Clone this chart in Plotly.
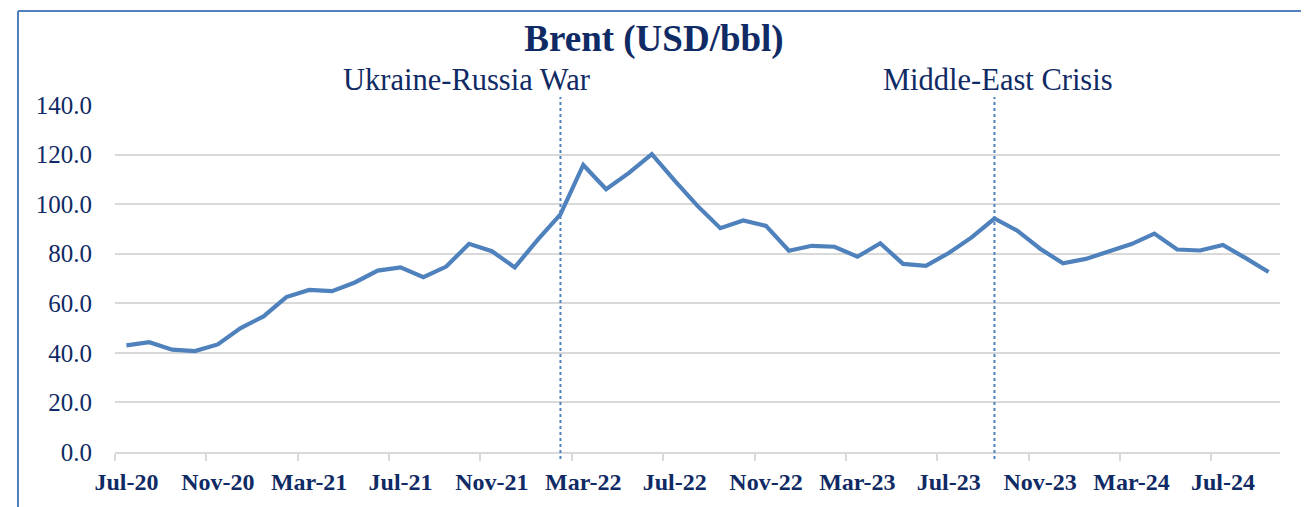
import plotly.graph_objects as go

months = ["Jul-20", "Aug-20", "Sep-20", "Oct-20", "Nov-20", "Dec-20",
          "Jan-21", "Feb-21", "Mar-21", "Apr-21", "May-21", "Jun-21",
          "Jul-21", "Aug-21", "Sep-21", "Oct-21", "Nov-21", "Dec-21",
          "Jan-22", "Feb-22", "Mar-22", "Apr-22", "May-22", "Jun-22",
          "Jul-22", "Aug-22", "Sep-22", "Oct-22", "Nov-22", "Dec-22",
          "Jan-23", "Feb-23", "Mar-23", "Apr-23", "May-23", "Jun-23",
          "Jul-23", "Aug-23", "Sep-23", "Oct-23", "Nov-23", "Dec-23",
          "Jan-24", "Feb-24", "Mar-24", "Apr-24", "May-24", "Jun-24",
          "Jul-24", "Aug-24", "Sep-24"]

brent = [43.0, 44.3, 41.3, 40.7, 43.4, 50.0,
         54.7, 62.5, 65.4, 64.9, 68.4, 73.2,
         74.5, 70.5, 74.8, 84.0, 81.0, 74.5,
         85.6, 95.9, 115.8, 106.0, 112.6, 120.2,
         109.5, 99.3, 90.3, 93.4, 91.2, 81.2,
         83.2, 82.8, 78.8, 84.2, 75.9, 75.1,
         80.3, 86.6, 94.2, 89.3, 82.0, 76.1,
         77.9, 80.9, 83.9, 88.1, 81.7, 81.3,
         83.5, 78.2, 72.6]

events = ["Feb-22", "Sep-23"]
event_labels = ["Ukraine-Russia War", "Middle-East Crisis"]

NAVY = "#0F2A64"
LINE = "#4F81BD"
GRID = "#D9D9D9"
FONT = "Liberation Serif"

fig = go.Figure()
fig.add_trace(go.Scatter(x=months, y=brent, mode="lines",
                         line=dict(color=LINE, width=4.2),
                         hoverinfo="x+y", showlegend=False))

# page has an 8px default body margin
O = 8
W, H = 1301, 499
L, R, T, B = 107, 29, 97, 55
pw, ph = W - L - R, H - T - B

def px(xp):  # page pixel x -> paper
    return (xp - O - L) / pw

def py(yp):  # page pixel y -> paper
    return (H - B - (yp - O)) / ph

shapes = []
for ev in events:
    shapes.append(dict(type="line", xref="x", yref="paper", x0=ev, x1=ev,
                       y0=py(459), y1=py(97),
                       line=dict(color=LINE, width=2, dash="dot")))
# frame
shapes.append(dict(type="line", xref="paper", yref="paper",
                   x0=px(18), x1=px(1307), y0=py(11), y1=py(11),
                   line=dict(color=LINE, width=2)))
shapes.append(dict(type="line", xref="paper", yref="paper",
                   x0=px(18), x1=px(18), y0=py(11), y1=py(510),
                   line=dict(color=LINE, width=2)))
shapes.append(dict(type="line", xref="paper", yref="paper",
                   x0=px(1308), x1=px(1308), y0=py(11), y1=py(50),
                   line=dict(color="#BCD0EA", width=1)))
shapes.append(dict(type="line", xref="paper", yref="paper",
                   x0=px(1308), x1=px(1308), y0=py(50), y1=py(510),
                   line=dict(color="#8FB0DA", width=1, dash="dot")))

annotations = [
    dict(text=event_labels[0], xref="paper", yref="paper", x=px(466), y=py(80),
         xanchor="center", yanchor="middle", showarrow=False,
         font=dict(family=FONT, size=30.5, color=NAVY)),
    dict(text=event_labels[1], xref="paper", yref="paper", x=px(998), y=py(80),
         xanchor="center", yanchor="middle", showarrow=False,
         font=dict(family=FONT, size=30.5, color=NAVY)),
]

fig.update_layout(
    width=W, height=H, autosize=False,
    margin=dict(l=L, r=R, t=T, b=B, autoexpand=False),
    paper_bgcolor="white", plot_bgcolor="white",
    title=dict(text="<b>Brent (USD/bbl)</b>", x=(654 - O) / W, xanchor="center",
               y=1 - (38 - O) / H, yanchor="middle", yref="container",
               font=dict(family=FONT, size=37, color=NAVY)),
    shapes=shapes, annotations=annotations,
    xaxis=dict(type="category", range=[-0.5, len(months) - 0.5],
               tickmode="linear", tick0=0, dtick=4,
               tickson="boundaries", ticks="outside", ticklen=7,
               tickwidth=1.5, tickcolor=GRID, showgrid=False,
               showline=True, linecolor=GRID, linewidth=1.5,
               tickangle=0, automargin=False,
               tickfont=dict(family=FONT, size=24, color=NAVY, weight="bold"),
               ticklabelstandoff=7, fixedrange=True),
    yaxis=dict(range=[0, 140], dtick=20, tickformat=".1f",
               showgrid=True, gridcolor=GRID, gridwidth=1.5,
               zeroline=False, showline=False, ticks="", automargin=False,
               tickfont=dict(family=FONT, size=25, color=NAVY),
               ticklabelstandoff=22, fixedrange=True),
)

fig.write_html("out.html")
